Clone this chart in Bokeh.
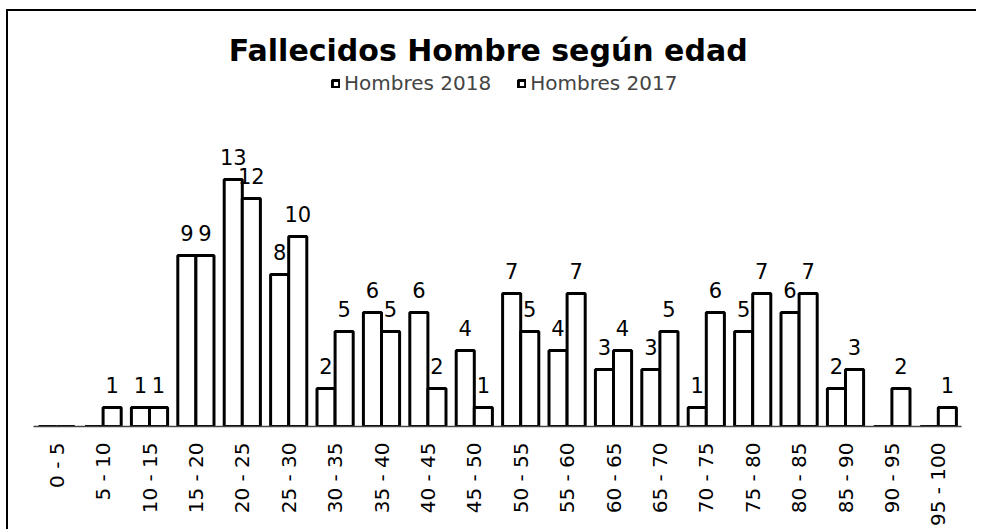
from bokeh.plotting import figure
from bokeh.models import ColumnDataSource, Range1d, LabelSet, Legend, LegendItem, Label, FactorRange
from bokeh.transform import dodge
from bokeh.core.properties import value
from bokeh.embed import file_html
from bokeh.resources import INLINE
import math

categories = ["0 - 5", "5 - 10", "10 - 15", "15 - 20", "20 - 25", "25 - 30", "30 - 35",
              "35 - 40", "40 - 45", "45 - 50", "50 - 55", "55 - 60", "60 - 65", "65 - 70",
              "70 - 75", "75 - 80", "80 - 85", "85 - 90", "90 - 95", "95 - 100"]
hombres_2018 = [0, 0, 1, 9, 13, 8, 2, 6, 6, 4, 7, 4, 3, 3, 1, 5, 6, 2, 0, 0]
hombres_2017 = [0, 1, 1, 9, 12, 10, 5, 5, 2, 1, 5, 7, 4, 5, 6, 7, 7, 3, 2, 1]
series_names = ["Hombres 2018", "Hombres 2017"]
title_text = "Fallecidos Hombre según edad"

FONT = "DejaVu Sans"

src = ColumnDataSource(dict(cat=categories, h18=hombres_2018, h17=hombres_2017))

p = figure(x_range=FactorRange(factors=categories, range_padding=0),
           y_range=Range1d(0, 21.84),
           frame_width=928, frame_height=415, output_backend="svg", toolbar_location=None,
           min_border_left=25, min_border_right=15, min_border_top=0, min_border_bottom=0)
p.styles = {"border-left": "2px solid black", "border-top": "2px solid black",
            "margin-top": "9px", "margin-left": "6px"}
p.outline_line_color = None
p.xgrid.visible = False
p.ygrid.visible = False
p.yaxis.visible = False

bw = 0.39
r18 = p.vbar(x=dodge("cat", -bw / 2, range=p.x_range), top="h18", width=bw, source=src,
             fill_color="white", line_color="black", line_width=3)
r17 = p.vbar(x=dodge("cat", bw / 2, range=p.x_range), top="h17", width=bw, source=src,
             fill_color="white", line_color="black", line_width=3)

# value labels (only non-zero)
l18 = ColumnDataSource(dict(cat=[c for c, v in zip(categories, hombres_2018) if v],
                            v=[v for v in hombres_2018 if v],
                            t=[str(v) for v in hombres_2018 if v]))
l17 = ColumnDataSource(dict(cat=[c for c, v in zip(categories, hombres_2017) if v],
                            v=[v for v in hombres_2017 if v],
                            t=[str(v) for v in hombres_2017 if v]))
for s, off in ((l18, -bw / 2), (l17, bw / 2)):
    p.add_layout(LabelSet(x=dodge("cat", off, range=p.x_range), y="v", text="t", source=s,
                          text_align="center", text_baseline="bottom", y_offset=14,
                          text_font=value(FONT), text_font_size="21px", text_color="black"))

ax = p.xaxis[0]
ax.major_label_orientation = math.pi / 2
ax.major_label_text_font = FONT
ax.major_label_text_font_size = "20px"
ax.major_label_text_color = "black"
ax.major_label_standoff = 16
ax.major_tick_line_color = None
ax.major_tick_out = 0
ax.major_tick_in = 0
ax.minor_tick_line_color = None
ax.axis_line_color = "#444444"
ax.axis_line_width = 1.5

p.add_layout(Label(x=9.8, y=19.8, text=title_text, text_align="center", text_baseline="middle",
                   text_font=FONT, text_font_size="30px", text_font_style="bold", text_color="black"))

legend = Legend(items=[LegendItem(label=series_names[0], renderers=[r18]),
                       LegendItem(label=series_names[1], renderers=[r17])],
                orientation="horizontal", location=(298, 331),
                glyph_width=9, glyph_height=9, label_text_font=FONT, label_text_font_size="20px",
                label_standoff=4, spacing=26, padding=0, margin=0,
                background_fill_alpha=0, border_line_color=None)
p.add_layout(legend, "center")

open("out.html", "w").write(file_html(p, INLINE))
